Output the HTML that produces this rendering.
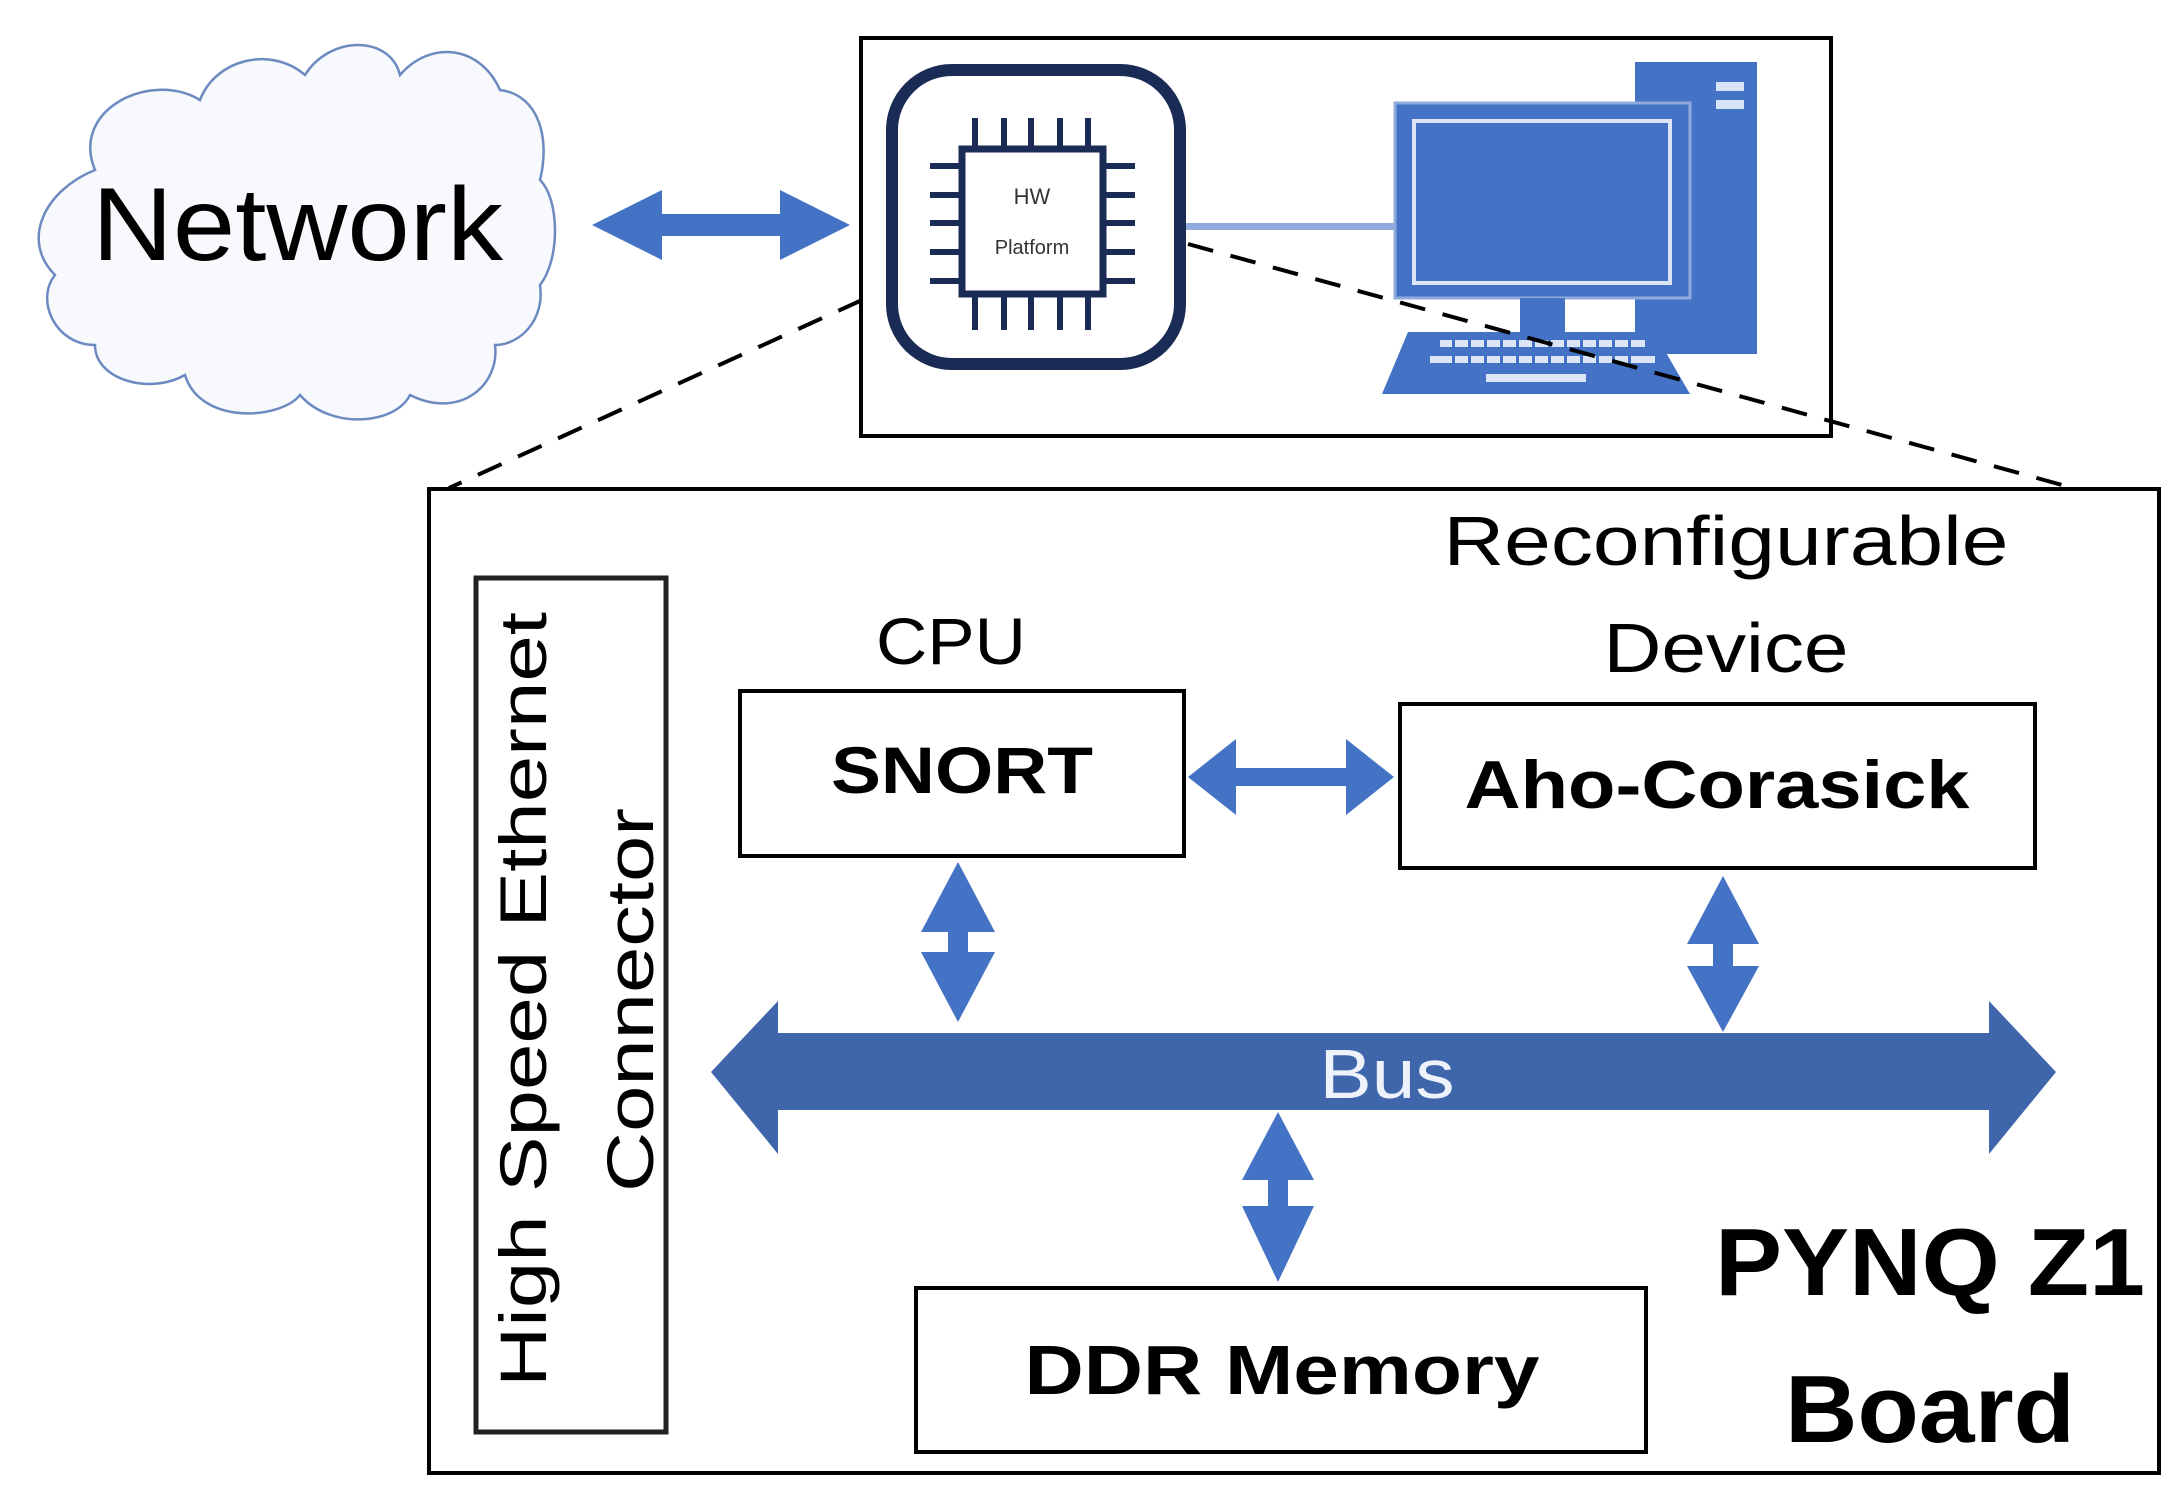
<!DOCTYPE html>
<html><head><meta charset="utf-8"><style>html,body{margin:0;padding:0;background:#fff}svg{display:block}</style></head>
<body>
<svg width="2175" height="1498" viewBox="0 0 2175 1498" xmlns="http://www.w3.org/2000/svg" font-family="Liberation Sans, sans-serif">
<!-- cloud -->
<path d="M95,170 C70,110 150,70 200,100 C215,60 270,45 305,75 C330,35 390,35 400,75 C430,40 480,45 500,90 C540,95 550,140 540,180 C560,200 560,260 540,285 C545,320 520,345 495,345 C500,385 460,420 410,395 C395,425 330,430 300,395 C280,420 200,425 185,375 C150,395 95,380 95,345 C55,345 35,300 55,275 C20,240 45,190 95,170 Z" fill="#f7f9fd" stroke="#6d8ac0" stroke-width="2.5"/>
<text x="92" y="260" font-size="104" textLength="411" lengthAdjust="spacingAndGlyphs" fill="#000">Network</text>
<!-- network arrow -->
<polygon points="592,225 662,190 662,214 780,214 780,190 850,225 780,260 780,236 662,236 662,260" fill="#4472c4"/>
<!-- top box -->
<rect x="861" y="38" width="970" height="398" fill="none" stroke="#000" stroke-width="4"/>
<!-- chip -->
<rect x="892" y="70" width="288" height="294" rx="60" fill="#fff" stroke="#1a2b55" stroke-width="12"/>
<rect x="962" y="149" width="141" height="145" fill="#fff" stroke="#1a2b55" stroke-width="7"/>
<g stroke="#1a2b55" stroke-width="6">
<line x1="975" y1="118" x2="975" y2="149"/><line x1="1004" y1="118" x2="1004" y2="149"/><line x1="1031" y1="118" x2="1031" y2="149"/><line x1="1060" y1="118" x2="1060" y2="149"/><line x1="1088" y1="118" x2="1088" y2="149"/>
<line x1="975" y1="294" x2="975" y2="330"/><line x1="1004" y1="294" x2="1004" y2="330"/><line x1="1031" y1="294" x2="1031" y2="330"/><line x1="1060" y1="294" x2="1060" y2="330"/><line x1="1088" y1="294" x2="1088" y2="330"/>
<line x1="930" y1="166" x2="962" y2="166"/><line x1="930" y1="195" x2="962" y2="195"/><line x1="930" y1="223" x2="962" y2="223"/><line x1="930" y1="252" x2="962" y2="252"/><line x1="930" y1="281" x2="962" y2="281"/>
<line x1="1103" y1="166" x2="1135" y2="166"/><line x1="1103" y1="195" x2="1135" y2="195"/><line x1="1103" y1="223" x2="1135" y2="223"/><line x1="1103" y1="252" x2="1135" y2="252"/><line x1="1103" y1="281" x2="1135" y2="281"/>
</g>
<text x="1032" y="204" font-size="22" text-anchor="middle" fill="#333">HW</text>
<text x="1032" y="254" font-size="20" text-anchor="middle" fill="#333">Platform</text>
<!-- line to pc -->
<rect x="1186" y="223" width="230" height="7" fill="#8faadc"/>
<!-- computer -->
<rect x="1635" y="62" width="122" height="292" fill="#4472c4"/>
<rect x="1716" y="82" width="28" height="9" fill="#d6e2f5"/>
<rect x="1716" y="100" width="28" height="9" fill="#d6e2f5"/>
<rect x="1395" y="103" width="295" height="195" fill="#4472c4" stroke="#8faadc" stroke-width="3"/>
<rect x="1414" y="121" width="256" height="162" fill="#4472c4" stroke="#dbe5f7" stroke-width="4"/>
<rect x="1520" y="298" width="45" height="34" fill="#4472c4"/>
<polygon points="1408,332 1654,332 1690,394 1382,394" fill="#4472c4"/>
<g fill="#dbe5f7">
<rect x="1440" y="340" width="205" height="7"/><rect x="1430" y="356" width="225" height="7"/><rect x="1486" y="374" width="100" height="8"/>
</g>
<g fill="#4472c4"><rect x="1452" y="340" width="3" height="24"/><rect x="1468" y="340" width="3" height="24"/><rect x="1484" y="340" width="3" height="24"/><rect x="1500" y="340" width="3" height="24"/><rect x="1516" y="340" width="3" height="24"/><rect x="1532" y="340" width="3" height="24"/><rect x="1548" y="340" width="3" height="24"/><rect x="1564" y="340" width="3" height="24"/><rect x="1580" y="340" width="3" height="24"/><rect x="1596" y="340" width="3" height="24"/><rect x="1612" y="340" width="3" height="24"/><rect x="1628" y="340" width="3" height="24"/></g>
<!-- dashed lines -->
<line x1="862" y1="300" x2="449" y2="488" stroke="#000" stroke-width="4" stroke-dasharray="26,18"/>
<line x1="1188" y1="244" x2="2084" y2="491" stroke="#000" stroke-width="4" stroke-dasharray="26,18"/>
<!-- bottom box -->
<rect x="429" y="489" width="1730" height="984" fill="#fff" stroke="#000" stroke-width="4"/>
<!-- ethernet -->
<rect x="476" y="578" width="190" height="854" fill="none" stroke="#222" stroke-width="5"/>
<text transform="translate(546,1387) rotate(-90)" x="0" y="0" font-size="66" textLength="775" lengthAdjust="spacingAndGlyphs">High Speed Ethernet</text>
<text transform="translate(653,1192) rotate(-90)" x="0" y="0" font-size="66" textLength="384" lengthAdjust="spacingAndGlyphs">Connector</text>
<!-- CPU -->
<text x="951" y="664" font-size="66" text-anchor="middle" textLength="150" lengthAdjust="spacingAndGlyphs">CPU</text>
<rect x="740" y="691" width="444" height="165" fill="#fff" stroke="#000" stroke-width="4"/>
<text x="962" y="793" font-size="66" font-weight="bold" text-anchor="middle" textLength="262" lengthAdjust="spacingAndGlyphs">SNORT</text>
<!-- reconfig -->
<text x="1726" y="565" font-size="70" text-anchor="middle" textLength="565" lengthAdjust="spacingAndGlyphs">Reconfigurable</text>
<text x="1726" y="672" font-size="70" text-anchor="middle" textLength="245" lengthAdjust="spacingAndGlyphs">Device</text>
<rect x="1400" y="704" width="635" height="164" fill="#fff" stroke="#000" stroke-width="4"/>
<text x="1717" y="808" font-size="68" font-weight="bold" text-anchor="middle" textLength="505" lengthAdjust="spacingAndGlyphs">Aho-Corasick</text>
<!-- snort-aho arrow -->
<polygon points="1188,777 1236,739 1236,768 1346,768 1346,739 1394,777 1346,815 1346,786 1236,786 1236,815" fill="#4472c4"/>
<!-- vertical arrows -->
<polygon points="958,862 995,932 968,932 968,952 995,952 958,1022 921,952 948,952 948,932 921,932" fill="#4472c4"/>
<polygon points="1723,876 1759,944 1733,944 1733,966 1759,966 1723,1032 1687,966 1713,966 1713,944 1687,944" fill="#4472c4"/>
<polygon points="1278,1112 1314,1180 1288,1180 1288,1206 1314,1206 1278,1282 1242,1206 1268,1206 1268,1180 1242,1180" fill="#4472c4"/>
<!-- bus -->
<polygon points="711,1072 778,1001 778,1033 1989,1033 1989,1001 2056,1072 1989,1154 1989,1110 778,1110 778,1154" fill="#3f65ab"/>
<text x="1387" y="1098" font-size="70" fill="#eef3fb" text-anchor="middle" textLength="135" lengthAdjust="spacingAndGlyphs">Bus</text>
<!-- DDR -->
<rect x="916" y="1288" width="730" height="164" fill="#fff" stroke="#000" stroke-width="4"/>
<text x="1282" y="1394" font-size="70" font-weight="bold" text-anchor="middle" textLength="515" lengthAdjust="spacingAndGlyphs">DDR Memory</text>
<!-- PYNQ -->
<text x="1930" y="1295" font-size="96" font-weight="bold" text-anchor="middle" textLength="430" lengthAdjust="spacingAndGlyphs">PYNQ Z1</text>
<text x="1930" y="1442" font-size="96" font-weight="bold" text-anchor="middle" textLength="290" lengthAdjust="spacingAndGlyphs">Board</text>
</svg>
</body></html>
